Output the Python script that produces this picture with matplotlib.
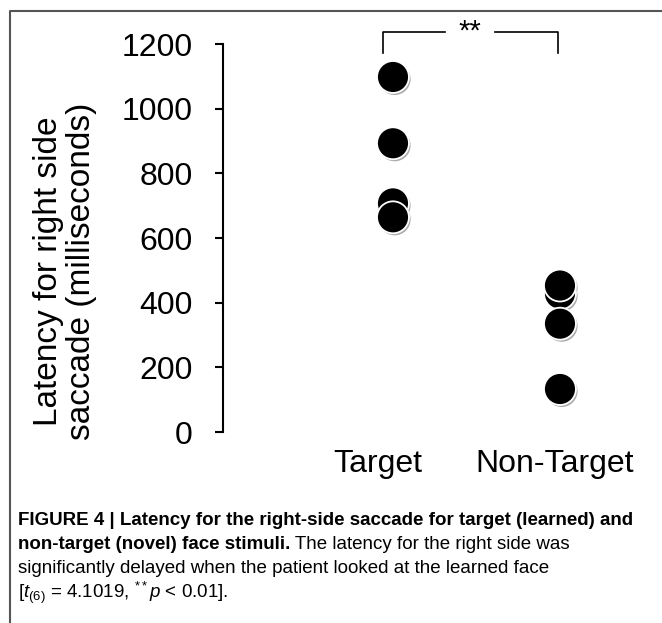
import matplotlib
matplotlib.use("Agg")
import matplotlib.pyplot as plt
import matplotlib.patheffects as pe
from matplotlib.lines import Line2D

plt.rcParams['font.family'] = ['Liberation Sans', 'DejaVu Sans']
plt.rcParams['mathtext.fontset'] = 'custom'
plt.rcParams['mathtext.rm'] = 'Liberation Sans'
plt.rcParams['mathtext.it'] = 'Liberation Sans:italic'

# data (ms)
categories = ['Target', 'Non-Target']
target_vals = [1098, 893, 707, 664]
nontarget_vals = [428, 453, 335, 133]
yticks = [0, 200, 400, 600, 800, 1000, 1200]

W, H = 662, 623
fig = plt.figure(figsize=(W / 100, H / 100), dpi=100)

# axes placed in pixel terms
ax_left, ax_bottom_px, ax_top_px = 223, 432, 44
ax = fig.add_axes([ax_left / W, (H - ax_bottom_px) / H, (W - ax_left) / W,
                   (ax_bottom_px - ax_top_px) / H])
ax.set_xlim(-1.018, 1.611)
ax.set_ylim(0, 1200)

shadow = [pe.SimplePatchShadow(offset=(1.2, -1.5), shadow_rgbFace='#888888', alpha=0.7), pe.Normal()]
for i, vals in enumerate([target_vals, nontarget_vals]):
    ax.scatter([i] * len(vals), vals, s=23 ** 2, c='black', edgecolors='white',
               linewidths=1.3, zorder=3, clip_on=False, path_effects=shadow)

for s in ['top', 'right', 'bottom']:
    ax.spines[s].set_visible(False)
ax.spines['left'].set_linewidth(1.5)
ax.set_yticks(yticks)
ax.tick_params(axis='y', length=6, width=1.5, pad=16, labelsize=23)
ax.set_xticks([-0.09, 0.97])
ax.set_xticklabels(categories)
ax.tick_params(axis='x', length=0, pad=12, labelsize=23)

fig.text(65 / W, (H - 271) / H, 'Latency for right side\nsaccade (milliseconds)',
         rotation=90, ha='center', va='center', fontsize=24, linespacing=1.1)

# significance bracket
bx0, bx1, gap0, gap1 = -0.06, 0.988, 0.31, 0.61
ylo, yhi = 1172, 1237
kw = dict(color='black', lw=1.2, clip_on=False)
ax.plot([bx0, bx0, gap0], [ylo, yhi, yhi], **kw)
ax.plot([gap1, bx1, bx1], [yhi, yhi, ylo], **kw)
ax.text((gap0 + gap1) / 2, yhi, '**', ha='center', va='center', fontsize=21, clip_on=False)

# frame around the figure panel
fig.add_artist(Line2D([10 / W, 10 / W, 1], [0, (H - 11) / H, (H - 11) / H],
                      transform=fig.transFigure, color='#555555', lw=1.5))

# caption
cap = dict(fontsize=13.5, va='baseline')
x0 = 18 / W
fig.text(x0, (H - 525) / H,
         'FIGURE 4 | Latency for the right-side saccade for target (learned) and',
         fontweight='bold', **cap)
t2 = fig.text(x0, (H - 549) / H, 'non-target (novel) face stimuli.', fontweight='bold', **cap)
t2b = fig.text(x0, (H - 549) / H, ' The latency for the right side was', **cap)
fig.text(x0, (H - 573) / H, 'significantly delayed when the patient looked at the learned face', **cap)
fig.text(x0, (H - 598) / H, r'[$t_{(6)}$ = 4.1019, $^{**}p$ < 0.01].', **cap)

# put the regular part of line 2 right after the bold part
fig.canvas.draw()
bb = t2.get_window_extent(fig.canvas.get_renderer())
t2b.set_position((bb.x1 / W, (H - 549) / H))

fig.savefig('out.png', dpi=100)
